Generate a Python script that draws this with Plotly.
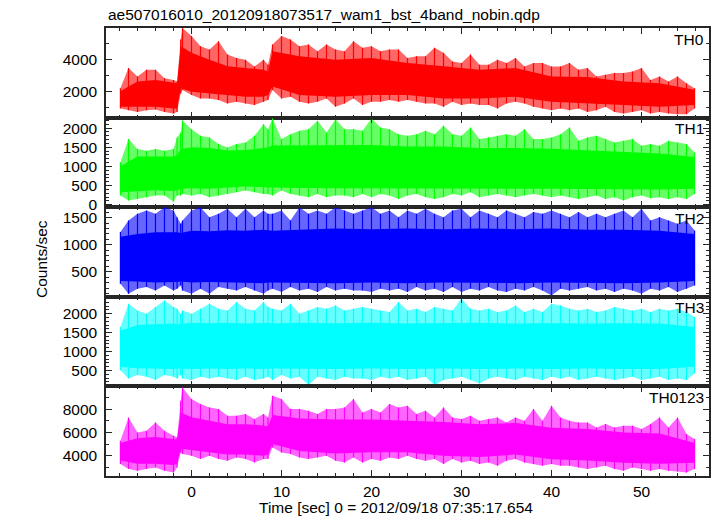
import plotly.graph_objects as go

# ---------------- data ----------------
# envelope time grid [sec]
t_env = [-7.9, -7, -6, -5, -4, -3, -2, -1.6, -1.2,
         -1, 0, 1, 2, 3, 4, 5, 6, 7, 8, 8.5,
         9, 10, 11, 12, 13, 14, 15, 16, 17, 18, 19, 20, 21, 22, 23, 24,
         25, 26, 27, 28, 29, 30, 31, 32, 33, 34, 35, 36, 37, 38, 39, 40,
         41, 42, 43, 44, 45, 46, 47, 48, 49, 50, 51, 52, 53, 54, 55, 55.9]

# core (dense part of the band) time grid [sec]
t_core = [-7.9, -6, -4, -2, -1.6, -1.2, 0, 2, 4, 6, 8, 8.5, 9, 12, 16, 20,
          24, 28, 32, 36, 40, 44, 48, 52, 55.9]

# TH0 (counts/sec)
th0_hi = [2190, 3470, 2940, 3360, 3360, 2830, 2720, 2620, 5280,
          6000, 5490, 4850, 4640, 5170, 4320, 4110, 4000, 3570, 4000, 3680,
          4960, 5490, 5280, 4850, 4960, 4530, 4960, 4640, 4530, 5170, 4750, 4850, 4530, 4640, 4640, 4110,
          4210, 4210, 4750, 4430, 3890, 3790, 4320, 3680, 3680, 4000, 3790, 4110, 3570, 3790, 3790, 3570,
          3570, 3790, 3360, 3470, 2940, 3040, 3150, 3150, 3260, 3470, 2720, 2940, 2620, 2940, 2510, 2190]
th0_lo = [910, 810, 700, 810, 850, 700, 600, 700, 1870,
          2090, 1770, 1550, 1550, 1450, 1230, 1340, 1230, 1130, 1340, 1450,
          2090, 1550, 1660, 1340, 1230, 1340, 1550, 1020, 1230, 1550, 1130, 1340, 1340, 1450, 1340, 1450,
          1340, 1230, 1230, 1020, 1340, 1130, 1230, 1130, 1130, 910, 1230, 1340, 1230, 1020, 910, 810,
          910, 810, 910, 700, 810, 1020, 700, 600, 700, 810, 600, 700, 600, 550, 550, 910]
th0_core_hi = [2000, 2620, 2720, 2510, 2510, 4850, 4430, 4000, 3580, 3470, 3360, 3260, 4530, 4210,
               4000, 4110, 3790, 3580, 3360, 3470, 2940, 2900, 2620, 2510, 2100]
th0_core_lo = [1020, 1020, 1020, 920, 920, 2190, 1980, 1870, 1770, 1660, 1660, 1770, 2300, 1770,
               1660, 1770, 1770, 1550, 1550, 1660, 1340, 1230, 1130, 1020, 1130]

# TH1
th1_hi = [1108, 1714, 1454, 1411, 1454, 1411, 1454, 1757, 1887,
          2200, 1973, 1800, 1757, 1584, 1497, 1584, 1627, 1800, 2103, 1973,
          2250, 1714, 1843, 1930, 1973, 2190, 1887, 2233, 1973, 1973, 1930, 2250, 2016, 1973, 1843, 1800,
          1843, 1930, 1843, 2060, 1843, 1800, 2016, 1714, 1757, 1800, 1843, 1800, 1973, 1714, 1714, 1757,
          1843, 2016, 1670, 1757, 1800, 1714, 1627, 1670, 1714, 1540, 1584, 1540, 1670, 1627, 1584, 1367]
th1_lo = [243, 112, 155, 199, 243, 243, 80, 243, 243,
          285, 243, 285, 199, 243, 285, 329, 372, 329, 285, 285,
          243, 372, 285, 243, 199, 285, 199, 243, 243, 199, 285, 199, 285, 243, 155, 243,
          285, 199, 155, 199, 285, 243, 329, 199, 243, 285, 243, 199, 243, 285, 243, 199,
          243, 199, 155, 199, 243, 155, 199, 112, 199, 243, 173, 199, 155, 199, 155, 285]
th1_core_hi = [1000, 1260, 1260, 1260, 1300, 1450, 1500, 1480, 1420, 1430, 1480, 1500, 1550, 1550,
               1560, 1560, 1520, 1520, 1480, 1480, 1460, 1420, 1380, 1340, 1250]
th1_core_lo = [330, 360, 380, 360, 380, 420, 430, 420, 450, 480, 460, 450, 440, 440,
               430, 430, 430, 420, 430, 420, 420, 410, 400, 400, 420]

# TH2
th2_hi = [1235, 1451, 1574, 1636, 1574, 1697, 1636, 1512, 1389,
          1451, 1636, 1697, 1512, 1574, 1666, 1512, 1666, 1512, 1636, 1574,
          1574, 1636, 1451, 1697, 1574, 1636, 1574, 1697, 1636, 1574, 1636, 1697, 1574, 1636, 1512, 1636,
          1574, 1666, 1574, 1512, 1636, 1666, 1512, 1636, 1574, 1512, 1636, 1574, 1512, 1605, 1574, 1636,
          1574, 1512, 1605, 1512, 1574, 1512, 1574, 1636, 1512, 1666, 1451, 1512, 1451, 1389, 1451, 1266]
th2_lo = [278, 93, 185, 217, 155, 247, 155, 185, 247,
          155, 93, 185, 93, 217, 185, 155, 217, 155, 93, 155,
          185, 124, 217, 155, 185, 124, 217, 155, 185, 155, 155, 124, 185, 155, 185, 124,
          217, 155, 185, 124, 217, 124, 185, 155, 217, 155, 124, 185, 155, 217, 155, 62,
          185, 155, 185, 217, 155, 185, 124, 185, 155, 93, 185, 155, 217, 124, 185, 247]
th2_core_hi = [1150, 1200, 1230, 1240, 1230, 1220, 1260, 1250, 1270, 1260, 1280, 1270, 1260, 1280,
               1300, 1290, 1300, 1290, 1300, 1290, 1300, 1280, 1280, 1260, 1200]
th2_core_lo = [330, 320, 300, 310, 310, 320, 300, 310, 300, 300, 290, 300, 300, 300,
               290, 300, 290, 300, 300, 290, 300, 300, 290, 300, 330]

# TH3
th3_hi = [1649, 2263, 2088, 2000, 2175, 2351, 2175, 2131, 2000,
          2088, 2000, 2131, 2263, 2131, 2088, 2307, 2131, 2088, 2307, 2175,
          2131, 2088, 2263, 2000, 2088, 2175, 2131, 2219, 2088, 2131, 2175, 2131, 2088, 2044, 2307, 2088,
          2131, 2044, 2175, 2131, 2088, 2395, 2131, 2088, 2131, 2044, 2088, 2219, 2044, 2131, 2044, 2263,
          2219, 2131, 2088, 2131, 2044, 2088, 2175, 2131, 2088, 2131, 2044, 2131, 2088, 2131, 2044, 1912]
th3_lo = [509, 290, 378, 334, 246, 378, 334, 290, 378,
          290, 246, 334, 290, 334, 290, 246, 334, 246, 290, 334,
          246, 378, 290, 334, 114, 334, 290, 246, 334, 290, 290, 246, 334, 290, 334, 246,
          290, 334, 114, 246, 290, 334, 246, 158, 290, 334, 290, 246, 334, 290, 246, 334,
          290, 334, 246, 290, 334, 290, 246, 290, 334, 246, 290, 334, 246, 290, 246, 421]
th3_core_hi = [1550, 1700, 1720, 1740, 1720, 1730, 1760, 1750, 1760, 1740, 1750, 1760, 1740, 1760,
               1750, 1760, 1740, 1750, 1760, 1740, 1750, 1740, 1750, 1740, 1650]
th3_core_lo = [600, 560, 550, 540, 550, 560, 540, 550, 540, 550, 540, 550, 540, 550,
               540, 550, 540, 550, 540, 550, 540, 550, 540, 540, 600]

# TH0123
th0123_hi = [5283, 7285, 5999, 6141, 6856, 6141, 5712, 5569, 8715,
             9860, 8858, 8429, 8143, 8000, 7428, 7428, 7571, 7142, 7571, 7285,
             9144, 8858, 8000, 8000, 7857, 7571, 8000, 8000, 8143, 8858, 7714, 8000, 7714, 8429, 8143, 8286,
             7571, 7857, 7285, 8143, 7285, 7142, 7428, 7000, 7142, 7285, 6856, 7285, 7000, 8000, 7000, 8286,
             7285, 7000, 6856, 6856, 6427, 6713, 6427, 6570, 6570, 6284, 6713, 7285, 6427, 7285, 5855, 5426]
th0123_lo = [3281, 2852, 2709, 2852, 2995, 2709, 2566, 2995, 4282,
             4139, 3996, 3710, 3996, 3710, 3567, 3853, 3710, 3424, 3710, 3710,
             4711, 4282, 4139, 3853, 3710, 3853, 3996, 3567, 3424, 3853, 3424, 3710, 3567, 3853, 3710, 3996,
             3710, 3567, 3710, 3281, 3710, 3424, 3567, 3281, 3424, 3138, 3567, 3710, 3424, 3281, 3138, 3281,
             3138, 3138, 2995, 2852, 2995, 3138, 2852, 2709, 2995, 2852, 2709, 2852, 2709, 2652, 2566, 2852]
th0123_core_hi = [5100, 5500, 5600, 5400, 5400, 7700, 7300, 7000, 6700, 6700, 6600, 6500, 7500, 7200,
                  7100, 7100, 7000, 6900, 6700, 6800, 6400, 6300, 6000, 5900, 5100]
th0123_core_lo = [3600, 3300, 3300, 3200, 3300, 4600, 4500, 4300, 4100, 4100, 4000, 4100, 5000, 4400,
                  4200, 4300, 4300, 4000, 3900, 4100, 3700, 3600, 3400, 3300, 3400]

panel_names = ["TH0", "TH1", "TH2", "TH3", "TH0123"]
y_ranges = [[340, 6000], [-62, 2275], [37, 1696], [79, 2447], [2260, 9945]]
y_major = [[2000, 4000], [0, 500, 1000, 1500, 2000], [500, 1000, 1500],
           [500, 1000, 1500, 2000], [4000, 6000, 8000]]
y_major_text = [["2000", "4000"], ["0", "500", "1000", "1500", "2000"], ["500", "1000", "1500"],
                ["500", "1000", "1500", "2000"], ["4000", "6000", "8000"]]
y_minor_step = [1000, 100, 100, 100, 1000]
x_range = [-9.5, 57.5]
title_text = "ae507016010_20120918073517_wam1_bst_4band_nobin.qdp"
x_title = "Time [sec] 0 = 2012/09/18 07:35:17.654"
y_title = "Counts/sec"

# ---------------- figure ----------------
colors = [(255, 0, 0), (0, 255, 0), (0, 0, 255), (0, 255, 255), (255, 0, 255)]
env_hi = [th0_hi, th1_hi, th2_hi, th3_hi, th0123_hi]
env_lo = [th0_lo, th1_lo, th2_lo, th3_lo, th0123_lo]
core_hi = [th0_core_hi, th1_core_hi, th2_core_hi, th3_core_hi, th0123_core_hi]
core_lo = [th0_core_lo, th1_core_lo, th2_core_lo, th3_core_lo, th0123_core_lo]

FONT = "Liberation Sans, Arial, Helvetica, sans-serif"
FS = 15.5
FRAME = "#262626"

fig = go.Figure()
layout = dict(
    width=717, height=516,
    margin=dict(l=106, r=6, t=28, b=40),
    paper_bgcolor="white", plot_bgcolor="white",
    font=dict(family=FONT, size=FS, color="black"),
    showlegend=False,
)


def poly(tt, lo, hi):
    return list(tt) + list(reversed(tt)), list(hi) + list(reversed(lo))


annotations = []
n = len(panel_names)
for k in range(n):
    i = k + 1
    xa = "x" if i == 1 else f"x{i}"
    ya = "y" if i == 1 else f"y{i}"
    r, g, b = colors[k]

    # full extent of the noisy light curve (lighter fringe)
    px, py = poly(t_env, env_lo[k], env_hi[k])
    fig.add_trace(go.Scatter(x=px, y=py, fill="toself", mode="lines",
                             fillcolor=f"rgba({r},{g},{b},0.6)", line=dict(width=0),
                             hoverinfo="skip", xaxis=xa, yaxis=ya))
    # dense core
    cx, cy = poly(t_core, core_lo[k], core_hi[k])
    fig.add_trace(go.Scatter(x=cx, y=cy, fill="toself", mode="lines",
                             fillcolor=f"rgb({r},{g},{b})", line=dict(width=0),
                             hoverinfo="skip", xaxis=xa, yaxis=ya))
    # spikes: vertical min-max segments at each sampled time
    sx, sy = [], []
    for tt, lo, hi in zip(t_env, env_lo[k], env_hi[k]):
        sx += [tt, tt, None]
        sy += [lo, hi, None]
    fig.add_trace(go.Scatter(x=sx, y=sy, mode="lines",
                             line=dict(color=f"rgb({r},{g},{b})", width=1.2),
                             hoverinfo="skip", xaxis=xa, yaxis=ya))

    dom = [1 - (k + 1) / n, 1 - k / n]
    layout["xaxis" if i == 1 else f"xaxis{i}"] = dict(
        domain=[0, 1], anchor=ya, range=x_range,
        showline=True, mirror="allticks", linecolor=FRAME, linewidth=1.5,
        ticks="inside", ticklen=6, tickwidth=1.2, tickcolor=FRAME,
        tick0=0, dtick=10, showgrid=False, zeroline=False,
        showticklabels=(i == n), ticklabelstandoff=1,
        tickfont=dict(family=FONT, size=FS, color="black"),
        minor=dict(dtick=2, tick0=0, ticks="inside", ticklen=3, tickwidth=1, tickcolor=FRAME,
                   showgrid=False),
        **({} if i == 1 else {"matches": "x"}),
    )
    layout["yaxis" if i == 1 else f"yaxis{i}"] = dict(
        domain=dom, anchor=xa, range=y_ranges[k],
        showline=True, mirror="allticks", linecolor=FRAME, linewidth=1.5,
        ticks="inside", ticklen=6, tickwidth=1.2, tickcolor=FRAME,
        tickmode="array", tickvals=y_major[k], ticktext=y_major_text[k],
        showgrid=False, zeroline=False, ticklabelstandoff=4,
        tickfont=dict(family=FONT, size=FS, color="black"),
        minor=dict(dtick=y_minor_step[k], tick0=0, ticks="inside", ticklen=3, tickwidth=1,
                   tickcolor=FRAME, showgrid=False),
    )
    annotations.append(dict(
        text=panel_names[k], xref="paper", yref="paper",
        x=0.995, y=dom[1], xanchor="right", yanchor="middle", yshift=-11,
        showarrow=False, font=dict(family=FONT, size=FS, color="black")))

annotations.append(dict(text=title_text, xref="paper", yref="paper", x=0, y=1.03125,
                        xanchor="left", yanchor="middle", showarrow=False,
                        font=dict(family=FONT, size=FS, color="black")))
annotations.append(dict(text=x_title, xref="paper", yref="paper", x=0.481, y=-0.0714,
                        xanchor="center", yanchor="middle", showarrow=False,
                        font=dict(family=FONT, size=FS, color="black")))
annotations.append(dict(text=y_title, xref="paper", yref="paper", x=-0.107, y=0.4855,
                        xanchor="center", yanchor="middle", textangle=-90, showarrow=False,
                        font=dict(family=FONT, size=FS, color="black")))
layout["annotations"] = annotations

fig.update_layout(**layout)
fig.write_html("out.html", config={"displayModeBar": False},
               post_script="document.body.style.margin='0px';document.body.style.overflow='hidden';")
